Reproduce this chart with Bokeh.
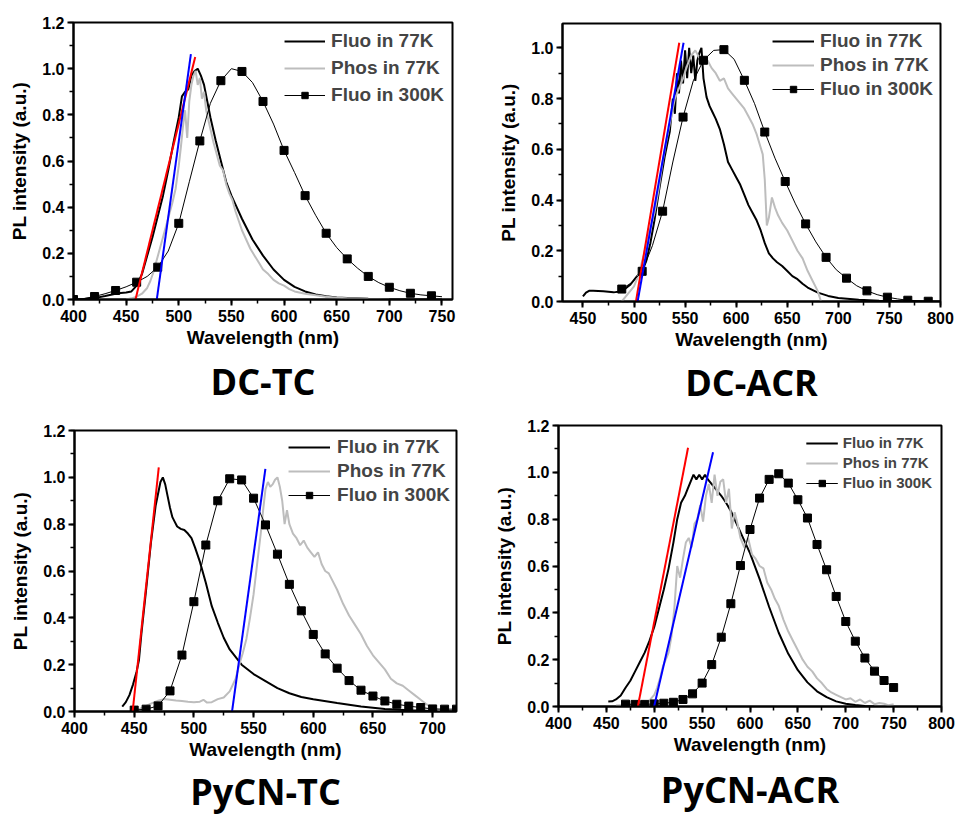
from bokeh.plotting import figure
from bokeh.models import (Range1d, SingleIntervalTicker, NumeralTickFormatter,
                          Legend, LegendItem, Title)
from bokeh.layouts import column, row
from bokeh.embed import file_html
from bokeh.resources import INLINE

# ---------------- DC-TC ----------------
tc_fluo77_x = [400, 410, 420, 430, 440, 445, 450, 455, 460, 465, 470, 475, 480, 485, 490, 495, 500, 503, 506, 509,
               512, 515, 518, 521, 524, 527, 530, 535, 540, 545, 550, 555, 560, 570, 580, 590, 600, 610, 620, 630,
               640, 650, 660, 680, 700, 750]
tc_fluo77_y = [0.0, 0.002, 0.006, 0.015, 0.025, 0.028, 0.03, 0.035, 0.06, 0.11, 0.19, 0.27, 0.36, 0.45, 0.56, 0.68,
               0.79, 0.88, 0.90, 0.91, 0.97, 0.99, 1.0, 0.97, 0.93, 0.86, 0.79, 0.69, 0.60, 0.51, 0.45, 0.40, 0.35,
               0.26, 0.19, 0.13, 0.085, 0.055, 0.035, 0.022, 0.014, 0.009, 0.006, 0.003, 0.001, 0.0]
tc_phos77_x = [450, 455, 460, 465, 470, 473, 476, 479, 482, 485, 488, 491, 494, 497, 500, 502, 504, 506, 508, 510,
               512, 514, 516, 518, 520, 522, 524, 526, 528, 530, 533, 536, 539, 542, 545, 548, 551, 554, 557, 560,
               564, 568, 572, 576, 580, 585, 590, 595, 600, 605, 610, 620, 630, 640, 650, 660, 680, 700]
tc_phos77_y = [0.0, 0.005, 0.012, 0.025, 0.05, 0.08, 0.12, 0.17, 0.22, 0.27, 0.32, 0.37, 0.42, 0.48, 0.58, 0.66,
               0.75, 0.82, 0.70, 0.86, 0.93, 0.97, 0.99, 0.93, 0.96, 0.87, 0.90, 0.82, 0.78, 0.74, 0.68, 0.63, 0.58,
               0.56, 0.50, 0.46, 0.43, 0.38, 0.34, 0.30, 0.26, 0.22, 0.19, 0.16, 0.13, 0.11, 0.085, 0.07, 0.06,
               0.045, 0.035, 0.025, 0.018, 0.012, 0.008, 0.005, 0.002, 0.0]
tc_fluo300_x = [400, 410, 420, 430, 440, 450, 460, 470, 480, 490, 500, 510, 520, 530, 540, 550, 560, 570, 580, 590,
                600, 610, 620, 630, 640, 650, 660, 670, 680, 690, 700, 710, 720, 730, 740, 750]
tc_fluo300_y = [0.0, 0.004, 0.013, 0.025, 0.039, 0.055, 0.075, 0.10, 0.14, 0.21, 0.33, 0.51, 0.687, 0.85, 0.948,
                1.0, 0.988, 0.94, 0.858, 0.76, 0.646, 0.55, 0.45, 0.365, 0.287, 0.225, 0.176, 0.135, 0.10, 0.073,
                0.053, 0.038, 0.027, 0.02, 0.016, 0.012]
tc_red_x = [456.7, 515.6]
tc_red_y = [-0.04, 1.051]
tc_blue_x = [477.9, 511.5]
tc_blue_y = [-0.04, 1.063]

# ---------------- DC-ACR ----------------
acr_fluo77_x = [450, 453, 456, 460, 470, 480, 488, 496, 503, 508, 512, 516, 520, 525, 530, 535, 538, 540, 542, 544,
                546, 548, 550, 552, 554, 556, 558, 560, 562, 564, 566, 568, 571, 574, 577, 580, 584, 588, 592, 596,
                600, 604, 608, 612, 616, 620, 624, 628, 632, 636, 640, 645, 650, 655, 660, 665, 670, 680, 690, 700,
                720, 740, 770, 800]
acr_fluo77_y = [0.02, 0.035, 0.042, 0.042, 0.04, 0.036, 0.04, 0.065, 0.10, 0.12, 0.16, 0.23, 0.32, 0.45, 0.57, 0.67,
                0.80, 0.74, 0.90, 0.82, 0.95, 0.86, 0.99, 0.88, 1.0, 0.90, 0.97, 0.87, 0.95, 0.98, 1.0, 0.88, 0.806,
                0.77, 0.745, 0.72, 0.68, 0.62, 0.55, 0.52, 0.49, 0.46, 0.42, 0.38, 0.35, 0.32, 0.28, 0.23, 0.19, 0.17,
                0.155, 0.14, 0.12, 0.10, 0.088, 0.07, 0.055, 0.035, 0.022, 0.014, 0.007, 0.003, 0.001, 0.0]
acr_phos77_x = [488, 492, 496, 500, 504, 508, 512, 516, 520, 524, 528, 532, 536, 540, 544, 548, 552, 556, 560, 564,
                568, 572, 576, 580, 584, 588, 592, 596, 600, 604, 608, 612, 616, 620, 623, 626, 628, 630, 632, 635,
                638, 641, 645, 650, 655, 660, 665, 670, 675, 680, 683]
acr_phos77_y = [0.0, 0.02, 0.04, 0.06, 0.10, 0.16, 0.22, 0.29, 0.35, 0.44, 0.55, 0.64, 0.72, 0.80, 0.84, 0.88, 0.93,
                0.97, 0.99, 0.96, 0.94, 0.95, 0.92, 0.90, 0.87, 0.88, 0.84, 0.82, 0.80, 0.78, 0.76, 0.73, 0.70, 0.66,
                0.62, 0.58, 0.48, 0.30, 0.33, 0.41, 0.37, 0.34, 0.31, 0.28, 0.24, 0.20, 0.17, 0.12, 0.08, 0.04, 0.0]
acr_fluo300_x = [488, 498, 508, 518, 528, 538, 548, 558, 568, 578, 588, 598, 608, 618, 628, 638, 648, 658, 668, 678,
                 688, 698, 708, 718, 728, 738, 748, 758, 768, 778, 788, 798]
acr_fluo300_y = [0.049, 0.075, 0.119, 0.22, 0.356, 0.55, 0.727, 0.87, 0.951, 0.99, 0.993, 0.955, 0.872, 0.78,
                 0.668, 0.565, 0.473, 0.385, 0.306, 0.235, 0.174, 0.125, 0.092, 0.062, 0.042, 0.027, 0.017, 0.01,
                 0.005, 0.003, 0.001, 0.0]
acr_red_x = [501.2, 544.3]
acr_red_y = [-0.017, 1.02]
acr_blue_x = [502.8, 548.5]
acr_blue_y = [-0.017, 1.02]

# ---------------- PyCN-TC ----------------
ptc_fluo77_x = [440, 443, 446, 449, 452, 454, 456, 460, 464, 468, 470, 472, 474, 476, 478, 480, 482, 484, 486, 489,
                492, 495, 498, 501, 505, 510, 515, 520, 525, 530, 540, 550, 560, 570, 580, 590, 600, 620, 640, 660,
                680, 700, 720]
ptc_fluo77_y = [0.021, 0.04, 0.07, 0.115, 0.17, 0.22, 0.33, 0.52, 0.72, 0.88, 0.93, 0.98, 1.0, 0.97, 0.92, 0.87,
                0.83, 0.81, 0.79, 0.78, 0.775, 0.76, 0.74, 0.70, 0.64, 0.55, 0.45, 0.38, 0.315, 0.265, 0.2, 0.16,
                0.13, 0.1, 0.078, 0.062, 0.052, 0.036, 0.021, 0.011, 0.005, 0.002, 0.0]
ptc_phos77_x = [450, 455, 460, 465, 470, 475, 480, 485, 490, 495, 500, 505, 508, 511, 515, 520, 525, 530, 535, 538,
                541, 544, 547, 550, 553, 556, 558, 560, 562, 564, 566, 568, 570, 572, 574, 576, 578, 580, 583, 586,
                589, 592, 595, 598, 601, 604, 607, 610, 613, 616, 620, 625, 630, 635, 640, 645, 650, 655, 660, 665,
                670, 675, 680, 685, 690, 695, 700, 705, 710]
ptc_phos77_y = [0.003, 0.012, 0.024, 0.036, 0.046, 0.053, 0.05, 0.047, 0.045, 0.042, 0.04, 0.042, 0.05, 0.038, 0.04,
                0.053, 0.06, 0.086, 0.14, 0.2, 0.25, 0.31, 0.4, 0.5, 0.63, 0.76, 0.86, 0.95, 0.98, 0.96, 0.97, 0.99,
                1.0, 0.96, 0.9, 0.8, 0.86, 0.8, 0.76, 0.74, 0.71, 0.73, 0.70, 0.68, 0.66, 0.68, 0.63, 0.6, 0.59, 0.56,
                0.52, 0.46, 0.41, 0.37, 0.33, 0.28, 0.24, 0.21, 0.18, 0.14, 0.12, 0.11, 0.09, 0.07, 0.05, 0.03, 0.015,
                0.006, 0.0]
ptc_fluo300_x = [450, 460, 470, 480, 490, 500, 510, 520, 530, 540, 550, 560, 570, 580, 590, 600, 610, 620, 630, 640,
                 650, 660, 670, 680, 690, 700, 710, 720]
ptc_fluo300_y = [0.006, 0.01, 0.024, 0.088, 0.241, 0.469, 0.711, 0.90, 0.994, 0.989, 0.911, 0.797, 0.672, 0.543,
                 0.43, 0.329, 0.246, 0.185, 0.132, 0.091, 0.066, 0.045, 0.031, 0.023, 0.017, 0.011, 0.01, 0.01]
ptc_red_x = [448.3, 470.6]
ptc_red_y = [-0.019, 1.043]
ptc_blue_x = [530.6, 559.9]
ptc_blue_y = [-0.051, 1.036]

# ---------------- PyCN-ACR ----------------
pacr_fluo77_x = [452, 456, 460, 465, 470, 475, 480, 485, 490, 495, 500, 505, 510, 515, 520, 524, 528, 532, 535, 538,
                 541, 544, 547, 550, 553, 556, 560, 565, 570, 575, 580, 590, 600, 610, 620, 630, 640, 650, 660, 670,
                 680, 690, 700, 710, 720, 730]
pacr_fluo77_y = [0.021, 0.022, 0.03, 0.047, 0.08, 0.11, 0.15, 0.19, 0.23, 0.28, 0.34, 0.42, 0.50, 0.59, 0.70, 0.80,
                 0.87, 0.90, 0.93, 0.96, 0.99, 0.97, 0.99, 0.97, 0.99, 0.97, 0.95, 0.925, 0.90, 0.87, 0.835, 0.745,
                 0.655, 0.545, 0.425, 0.315, 0.225, 0.155, 0.103, 0.065, 0.04, 0.022, 0.012, 0.006, 0.002, 0.0]
pacr_phos77_x = [460, 470, 480, 490, 495, 500, 503, 506, 509, 512, 515, 518, 521, 524, 527, 530, 533, 536, 539, 542,
                 545, 548, 551, 554, 557, 560, 563, 566, 569, 572, 575, 578, 581, 584, 587, 590, 594, 598, 602, 606,
                 610, 614, 618, 622, 626, 630, 635, 640, 645, 650, 655, 660, 665, 670, 675, 680, 685, 690, 695, 700,
                 705, 710, 715, 720, 725, 730, 735, 740, 745, 750]
pacr_phos77_y = [0.004, 0.006, 0.009, 0.012, 0.026, 0.05, 0.08, 0.12, 0.17, 0.2, 0.23, 0.3, 0.42, 0.6, 0.55, 0.63,
                 0.7, 0.72, 0.68, 0.78, 0.8, 0.86, 0.79, 0.9, 0.95, 0.87, 0.99, 0.9, 0.96, 0.97, 0.87, 0.93, 0.76, 0.83,
                 0.78, 0.72, 0.68, 0.72, 0.65, 0.63, 0.6, 0.59, 0.53, 0.5, 0.46, 0.43, 0.37, 0.32, 0.28, 0.24, 0.2,
                 0.17, 0.15, 0.12, 0.1, 0.075, 0.06, 0.05, 0.04, 0.03, 0.035, 0.02, 0.03, 0.015, 0.025, 0.01, 0.015,
                 0.012, 0.005, 0.01]
pacr_fluo300_x = [470, 480, 490, 500, 510, 520, 530, 540, 550, 560, 570, 580, 590, 600, 610, 620, 630, 640, 650, 660,
                  670, 680, 690, 700, 710, 720, 730, 740, 750]
pacr_fluo300_y = [0.01, 0.009, 0.009, 0.011, 0.014, 0.018, 0.03, 0.054, 0.1, 0.179, 0.296, 0.439, 0.602, 0.756, 0.89,
                  0.97, 0.994, 0.954, 0.883, 0.805, 0.692, 0.584, 0.47, 0.363, 0.279, 0.207, 0.151, 0.111, 0.081]
pacr_red_x = [481.4, 535.3]
pacr_red_y = [-0.031, 1.105]
pacr_blue_x = [498.1, 561.4]
pacr_blue_y = [-0.031, 1.086]

legend_labels = ["Fluo in 77K", "Phos in 77K", "Fluo in 300K"]
panel_titles = ["DC-TC", "DC-ACR", "PyCN-TC", "PyCN-ACR"]

FONT = "Liberation Sans"
GRAY = "#bdbdbd"


def make_panel(title, fluo77, phos77, fluo300, red, blue, marker_step, xr, yr, w, h, borders, leg, tstand):
    bl, br, bt, bb = borders
    p = figure(width=w, height=h, output_backend="svg", toolbar_location=None,
               x_range=Range1d(*xr), y_range=Range1d(*yr),
               min_border_left=bl, min_border_right=br, min_border_top=bt, min_border_bottom=bb)
    p.xgrid.visible = False
    p.ygrid.visible = False
    p.outline_line_color = "black"
    p.outline_line_width = 2
    p.background_fill_color = "white"

    p.xaxis.ticker = SingleIntervalTicker(interval=50, num_minor_ticks=2)
    p.yaxis.ticker = SingleIntervalTicker(interval=0.2, num_minor_ticks=2)
    p.yaxis.formatter = NumeralTickFormatter(format="0.0")
    for ax in (p.xaxis[0], p.yaxis[0]):
        ax.axis_line_width = 2
        ax.major_tick_line_width = 2
        ax.minor_tick_line_width = 1.5
        ax.major_tick_out = 6
        ax.major_tick_in = 0
        ax.minor_tick_out = 4
        ax.minor_tick_in = 0
        ax.major_label_text_font = FONT
        ax.major_label_text_font_style = "bold"
        ax.major_label_text_font_size = "16px"
        ax.major_label_text_color = "black"
        ax.axis_label_text_font = FONT
        ax.axis_label_text_font_style = "bold"
        ax.axis_label_text_font_size = "19px"
        ax.axis_label_text_color = "black"
    p.xaxis.axis_label = "Wavelength (nm)"
    p.yaxis.axis_label = "PL intensity (a.u.)"
    p.xaxis.major_label_standoff = 4
    p.yaxis.major_label_standoff = 3
    p.xaxis.axis_label_standoff = 2
    p.yaxis.axis_label_standoff = 9

    r1 = p.line(fluo77[0], fluo77[1], line_color="black", line_width=2)
    r2 = p.line(phos77[0], phos77[1], line_color=GRAY, line_width=2)
    r3 = p.line(fluo300[0], fluo300[1], line_color="black", line_width=1)
    r4 = p.scatter(fluo300[0][::marker_step], fluo300[1][::marker_step], marker="square",
                   size=8, fill_color="black", line_color="black")
    p.line(red[0], red[1], line_color="red", line_width=2)
    p.line(blue[0], blue[1], line_color="blue", line_width=2)

    fs, gw, spacing, margin, padding, standoff = leg
    legend = Legend(items=[LegendItem(label=legend_labels[0], renderers=[r1]),
                           LegendItem(label=legend_labels[1], renderers=[r2]),
                           LegendItem(label=legend_labels[2], renderers=[r3, r4])],
                    location="top_right", border_line_alpha=0, background_fill_alpha=0,
                    label_text_font=FONT, label_text_font_style="bold",
                    label_text_font_size=fs, glyph_width=gw, glyph_height=16,
                    label_height=16, spacing=spacing, margin=margin, padding=padding,
                    label_standoff=standoff)
    p.add_layout(legend)

    p.add_layout(Title(text=title, align="center", text_font="Open Sans", text_color="black",
                       text_font_style="bold", text_font_size="36px", text_line_height=1.0,
                       standoff=tstand), "below")
    return p


p1 = make_panel(panel_titles[0], (tc_fluo77_x, tc_fluo77_y), (tc_phos77_x, tc_phos77_y),
                (tc_fluo300_x, tc_fluo300_y), (tc_red_x, tc_red_y), (tc_blue_x, tc_blue_y), 2,
                (400, 760), (0, 1.2001), 480, 410, (73, 28, 22, 111), ("19px", 41, 5, 4, 4, 6), 9)
p2 = make_panel(panel_titles[1], (acr_fluo77_x, acr_fluo77_y), (acr_phos77_x, acr_phos77_y),
                (acr_fluo300_x, acr_fluo300_y), (acr_red_x, acr_red_y), (acr_blue_x, acr_blue_y), 2,
                (430, 800), (0, 1.096), 480, 410, (82, 20, 23, 109), ("19px", 42, 2, 3, 4, 6), 7)
p3 = make_panel(panel_titles[2], (ptc_fluo77_x, ptc_fluo77_y), (ptc_phos77_x, ptc_phos77_y),
                (ptc_fluo300_x, ptc_fluo300_y), (ptc_red_x, ptc_red_y), (ptc_blue_x, ptc_blue_y), 1,
                (400, 720), (0, 1.2001), 480, 408, (74, 24, 20, 107), ("19px", 42, 2, 2, 4, 7), 5)
p4 = make_panel(panel_titles[3], (pacr_fluo77_x, pacr_fluo77_y), (pacr_phos77_x, pacr_phos77_y),
                (pacr_fluo300_x, pacr_fluo300_y), (pacr_red_x, pacr_red_y), (pacr_blue_x, pacr_blue_y), 1,
                (400, 800), (0, 1.2001), 480, 408, (78, 19, 15, 112), ("15px", 32, 3, 4, 5, 5), 10)

# each plot wrapped in its own column so frames are not aligned across the row
layout = column(row(column(p1), column(p2)), row(column(p3), column(p4)))
open("out.html", "w").write(file_html(layout, INLINE))
